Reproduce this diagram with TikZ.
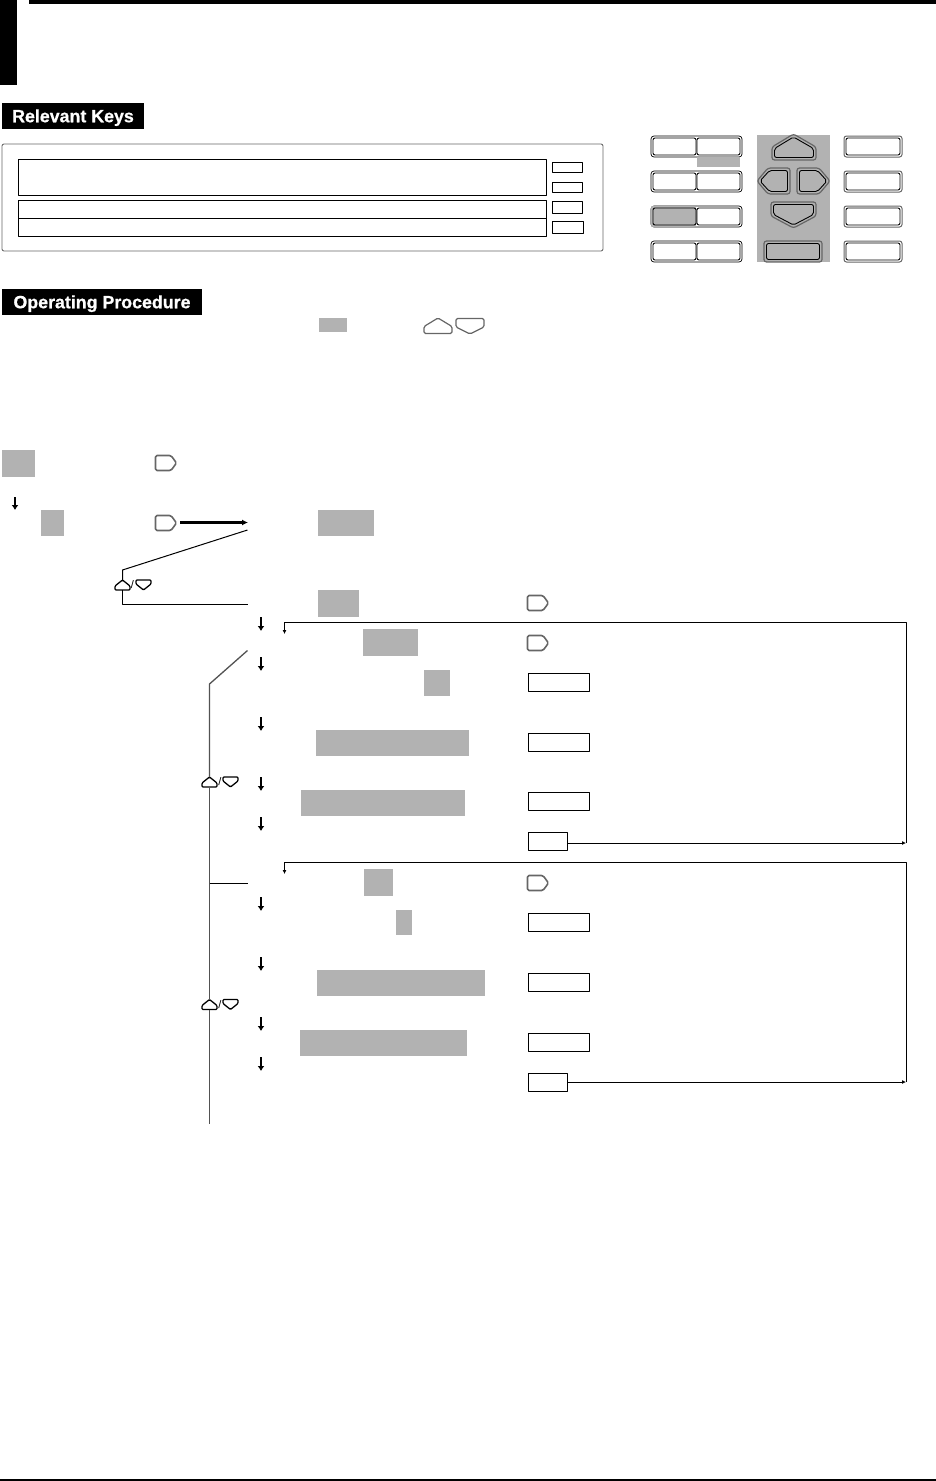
\documentclass[tikz,border=0pt]{standalone}
\usepackage{fontspec}
\setmainfont[BoldFeatures={FakeBold=0.8}]{Liberation Sans}
\usetikzlibrary{arrows.meta}
\definecolor{keygray}{HTML}{B2B2B2}
\definecolor{edgegray}{HTML}{666666}

\begin{document}
\begin{tikzpicture}[
  x=1pt,y=-1pt,
  line join=round,
  >=Latex,
  sz/.style 2 args={minimum width=#1,minimum height=#2,inner sep=0pt,outer sep=0pt,anchor=north west},
  heading/.style={fill=black,text=white,text height=15.5pt,text depth=3pt,font=\bfseries\fontsize{17.8}{20}\selectfont},
  hl/.style={fill=keygray},
  entry/.style={draw=black,line width=1pt},
  slot/.style={draw=black,line width=1pt},
  outerkey/.style={draw=edgegray,line width=1.2pt,rounded corners=2.5pt},
  innerkey/.style={draw=black,line width=0.9pt,rounded corners=2pt},
  thin link/.style={draw=black,line width=1pt},
  back/.style={draw=black,line width=1pt,-{Latex[length=4pt,width=4pt]}},
  drop/.style={draw=black,line width=2pt,-{Latex[length=5pt,width=7pt]}},
  stem/.style={draw=edgegray!80!black,line width=1.3pt},
  keyrow/.pic={
    \draw[draw=black,line width=0.7pt,rounded corners=3pt,fill=white] (-45.5,-10.5) rectangle (45.5,10.5);
    \draw[innerkey] (-43.5,-8.5) rectangle (-0.5,8.5);
    \draw[innerkey] (0.5,-8.5) rectangle (43.5,8.5);
  },
  keysolo/.pic={
    \draw[draw=edgegray,line width=1pt,rounded corners=2.5pt,fill=white] (-29,-10.5) rectangle (29,10.5);
    \draw[innerkey] (-27,-8.5) rectangle (27,8.5);
  },
  keynext/.pic={
    \draw[draw=edgegray,line width=1.6pt,rounded corners=1.5pt]
      (-10.5,-7.5) -- (5,-7.5) -- (10.5,0) -- (5,7.5) -- (-10.5,7.5) -- cycle;
  },
  keyupmid/.pic={
    \draw[draw=edgegray,line width=1.2pt,rounded corners=1.5pt]
      (-14,7.5) -- (-14,0.5) -- (0,-8) -- (14,0.5) -- (14,7.5) -- cycle;
  },
  keydownmid/.pic={
    \draw[draw=edgegray,line width=1.2pt,rounded corners=1.5pt]
      (-14,-7.5) -- (14,-7.5) -- (14,1) -- (0,8) -- (-14,1) -- cycle;
  },
  keyupsmall/.pic={
    \draw[draw=black,line width=1.3pt,rounded corners=1pt]
      (-7.5,5) -- (-7.5,1) -- (0,-5) -- (7.5,1) -- (7.5,5) -- cycle;
    \coordinate (-top) at (0,-5);
    \coordinate (-bot) at (0,5);
  },
  keydownsmall/.pic={
    \draw[draw=black,line width=1.3pt,rounded corners=1pt]
      (-7.5,-5) -- (7.5,-5) -- (7.5,-1) -- (0,5) -- (-7.5,-1) -- cycle;
  }
]
\useasboundingbox (0,0) rectangle (936,1481);

% page marks
\fill[black] (0,0) rectangle (17,85);
\fill[black] (29,0) rectangle (936,4);
\draw[black,line width=1.5pt] (0,1480) -- (936,1480);

% Relevant keys
\node[heading,sz={142}{26}] (headKeys) at (2,103) {Relevant Keys};
\draw[draw=edgegray,line width=0.9pt,rounded corners=2pt] (2,144) rectangle (603,251);
\node[slot,sz={528}{36.5}] (rowA) at (18.5,159) {};
\node[slot,sz={528}{18}] (rowB) at (18.5,200) {};
\node[slot,sz={528}{18}] (rowC) at (18.5,218) {};
\node[slot,sz={30}{10}] (tagA) at (552,162) {};
\node[slot,sz={30}{10}] (tagB) at (552,182) {};
\node[slot,sz={30}{12}] (tagC) at (552,201) {};
\node[slot,sz={31.5}{12}] (tagD) at (552,221) {};

% key panel
\node[hl,sz={73}{127}] (navBack) at (757,135) {};
\pic at (696.5,146.5) {keyrow};
\node[hl,sz={43}{10}] (rowPatch) at (697,157) {};
\pic at (696.5,181.5) {keyrow};
\pic at (696.5,216.5) {keyrow};
\pic at (696.5,251.5) {keyrow};
\fill[keygray,rounded corners=2pt] (651,206) rectangle (696,227);
\draw[innerkey,fill=keygray] (653,208) rectangle (696,225);
\pic at (873,146.5) {keysolo};
\pic at (873,181.5) {keysolo};
\pic at (873,216.5) {keysolo};
\pic at (873,251.5) {keysolo};

% navigation keys
\draw[outerkey] (793.5,134) -- (816,147) -- (816,160) -- (772,160) -- (772,147) -- cycle;
\draw[innerkey] (793.5,137) -- (813.5,148.5) -- (813.5,157.5) -- (774.5,157.5) -- (774.5,148.5) -- cycle;
\draw[outerkey] (757,181) -- (768,168) -- (790,168) -- (790,194) -- (768,194) -- cycle;
\draw[innerkey] (760,181) -- (769.5,170.5) -- (787.5,170.5) -- (787.5,191.5) -- (769.5,191.5) -- cycle;
\draw[outerkey] (830,181) -- (819,168) -- (797,168) -- (797,194) -- (819,194) -- cycle;
\draw[innerkey] (827,181) -- (817.5,170.5) -- (799.5,170.5) -- (799.5,191.5) -- (817.5,191.5) -- cycle;
\draw[outerkey] (771,202) -- (816,202) -- (816,216) -- (793.5,228) -- (771,216) -- cycle;
\draw[innerkey] (773.5,204.5) -- (813.5,204.5) -- (813.5,214.5) -- (793.5,225) -- (773.5,214.5) -- cycle;
\draw[outerkey] (764,241) rectangle (822,262);
\draw[innerkey] (766.5,243.5) rectangle (819.5,259.5);

% Operating procedure
\node[heading,sz={200}{26}] (headProc) at (2,289) {Operating Procedure};
\node[hl,sz={28}{14}] (markIntro) at (319,318) {};
\pic at (438,326) {keyupmid};
\pic at (470,326) {keydownmid};

% first steps
\node[hl,sz={33}{27}] (markA) at (2,450) {};
\pic at (166,463) {keynext};
\coordinate (dnA) at (15,497); \draw[drop] (dnA) -- ++(0,13);
\node[hl,sz={23}{26}] (markB) at (41,510) {};
\pic (nextB) at (166,523) {keynext};
\coordinate (hitB) at (248,522.5);
\draw[draw=black,line width=2.4pt,-{Latex[length=6pt,width=6pt]}] (180,522.5) -- (hitB);
\node[hl,sz={56}{26}] (markC) at (318,510) {};

% first branch
\pic (selA) at (122.5,585) {keyupsmall};
\node[font=\fontsize{11}{11}\selectfont,inner sep=0pt] (slashA) at (132.5,585) {/};
\pic at (143.5,585) {keydownsmall};
\coordinate (kneeA) at (122.5,570);
\coordinate (openA) at (247.5,530);
\coordinate (openB) at (247.5,604);
\draw[thin link] (openA) -- (kneeA) -- (selA-top);
\draw[thin link] (selA-bot) |- (openB);

\node[hl,sz={41}{27}] (markD) at (318,590) {};
\pic at (538,603) {keynext};
\coordinate (dnB) at (261,617); \draw[drop] (dnB) -- ++(0,14);

% upper procedure
\node[hl,sz={55}{27}] (markE) at (363,629) {};
\pic at (538,643) {keynext};
\coordinate (dnC) at (261,657); \draw[drop] (dnC) -- ++(0,14);
\node[hl,sz={26}{26}] (markF) at (424,670) {};
\node[entry,sz={61}{18}] (entryA) at (528.5,673) {};
\coordinate (dnD) at (261,717); \draw[drop] (dnD) -- ++(0,14);
\node[hl,sz={153}{26}] (markG) at (316,730) {};
\node[entry,sz={61}{18}] (entryB) at (528.5,733) {};
\coordinate (dnE) at (261,777); \draw[drop] (dnE) -- ++(0,14);
\node[hl,sz={164}{26}] (markH) at (301,790) {};
\node[entry,sz={61}{18}] (entryC) at (528.5,792) {};
\coordinate (dnF) at (261,817); \draw[drop] (dnF) -- ++(0,14);
\node[entry,sz={39}{18}] (entryD) at (528.5,832) {};

% upper return
\coordinate (turnA) at (906,843);
\coordinate (topA) at (906,622.5);
\coordinate (landA) at (284.5,634);
\draw[back] (entryD.east |- turnA) -- (turnA);
\draw[back] (turnA) -- (topA) -| (landA);

% lower procedure
\coordinate (turnB) at (906,1082);
\coordinate (topB) at (906,862.5);
\coordinate (landB) at (284.5,874);
\node[hl,sz={29}{27}] (markI) at (364,869) {};
\pic at (538,883) {keynext};
\coordinate (dnG) at (261,897); \draw[drop] (dnG) -- ++(0,14);
\node[hl,sz={16}{25}] (markJ) at (396,910) {};
\node[entry,sz={61}{18}] (entryE) at (528.5,913) {};
\coordinate (dnH) at (261,957); \draw[drop] (dnH) -- ++(0,14);
\node[hl,sz={168}{26}] (markK) at (317,970) {};
\node[entry,sz={61}{18}] (entryF) at (528.5,973) {};
\coordinate (dnI) at (261,1017); \draw[drop] (dnI) -- ++(0,14);
\node[hl,sz={167}{26}] (markL) at (300,1030) {};
\node[entry,sz={61}{18}] (entryG) at (528.5,1033) {};
\coordinate (dnJ) at (261,1057); \draw[drop] (dnJ) -- ++(0,14);
\node[entry,sz={39}{18}] (entryH) at (528.5,1073) {};
\draw[back] (entryH.east |- turnB) -- (turnB);
\draw[back] (turnB) -- (topB) -| (landB);

% second branch
\pic (selB) at (209.5,782) {keyupsmall};
\node[font=\fontsize{11}{11}\selectfont,inner sep=0pt] (slashB) at (220,782) {/};
\pic at (230.5,782) {keydownsmall};
\pic (selC) at (209.5,1004.5) {keyupsmall};
\node[font=\fontsize{11}{11}\selectfont,inner sep=0pt] (slashC) at (220,1004.5) {/};
\pic at (230.5,1004.5) {keydownsmall};
\coordinate (openC) at (247.5,650.5);
\coordinate (kneeB) at (209.5,684);
\coordinate (openD) at (247.5,883);
\coordinate (jointB) at (209.5,883);
\coordinate (endB) at (209.5,1124);
\draw[stem] (openC) -- (kneeB) -- (selB-top);
\draw[stem] (selB-bot) -- (selC-top);
\draw[stem] (selC-bot) -- (endB);
\draw[thin link] (jointB) -- (openD);

\end{tikzpicture}
\end{document}
